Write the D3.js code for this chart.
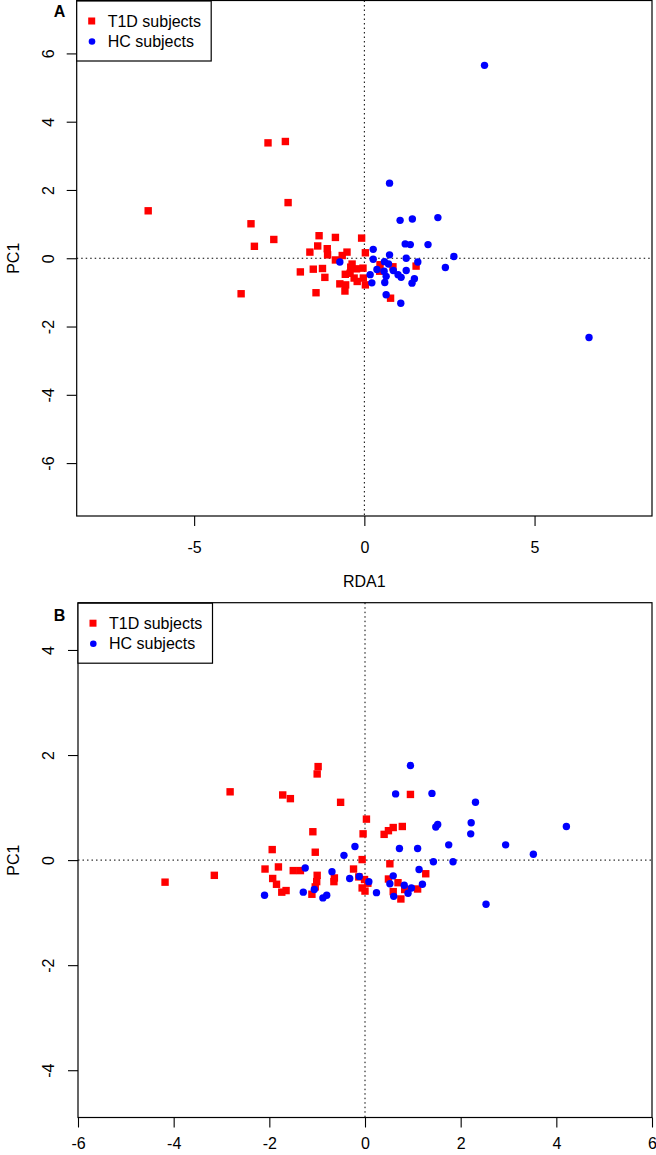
<!DOCTYPE html>
<html>
<head>
<meta charset="utf-8">
<script src="https://cdn.jsdelivr.net/npm/d3@7"></script>
<style>
  html, body { margin: 0; padding: 0; background: #fff; }
  svg { display: block; }
  text { font-family: "Liberation Sans", Arial, sans-serif; }
</style>
</head>
<body>
<svg id="chart" width="656" height="1155"></svg>
<script>
// ---------------- data ----------------
const seriesNames = ["T1D subjects", "HC subjects"];
const seriesColors = ["#ff0000", "#0000ff"];

// Panel A (RDA1 vs PC1)
const t1dA = [
  [-6.35,1.39],[-2.83,3.38],[-2.32,3.42],[-2.24,1.63],[-3.33,1.01],[-2.66,0.55],[-3.23,0.35],[-3.62,-1.04],
  [-1.33,0.66],[-0.85,0.61],[-0.08,0.59],[-1.37,0.36],[-1.09,0.28],[-1.60,0.18],[-1.08,0.10],[-0.51,0.18],
  [-0.65,0.08],[0.03,0.16],[-0.85,-0.05],[-1.88,-0.40],[-1.50,-0.32],[-1.23,-0.30],[-1.16,-0.56],[-1.42,-1.01],
  [-0.36,-0.17],[-0.40,-0.26],[-0.23,-0.31],[-0.04,-0.29],[-0.56,-0.47],[-0.42,-0.44],[-0.30,-0.58],[-0.03,-0.58],
  [-0.72,-0.75],[-0.55,-0.78],[-0.57,-0.96],[-0.21,-0.68],[0.03,-0.78],[0.46,-0.19],[0.45,-0.38],[0.84,-0.25],
  [1.52,-0.23],[0.77,-1.17]
];
const hcA = [
  [3.53,5.65],[6.60,-2.32],[0.74,2.20],[1.05,1.11],[1.41,1.15],[2.16,1.19],[1.20,0.42],[1.35,0.40],[1.87,0.40],
  [2.63,0.05],[0.26,0.26],[0.74,0.10],[1.23,0.00],[0.26,-0.03],[0.59,-0.10],[0.71,-0.17],[1.57,-0.11],[-0.72,-0.11],
  [0.37,-0.33],[0.58,-0.38],[0.85,-0.36],[0.99,-0.48],[1.08,-0.56],[1.23,-0.36],[2.38,-0.27],[0.17,-0.48],
  [0.64,-0.53],[0.22,-0.72],[0.60,-0.71],[1.47,-0.60],[1.40,-0.73],[0.64,-1.07],[1.07,-1.32]
];

// Panel B (RDA1 vs PC1)
const t1dB = [
  [-4.18,-0.42],[-3.15,-0.29],[-2.82,1.30],[-1.72,1.24],[-1.56,1.17],[-0.98,1.78],[-1.00,1.64],[-0.51,1.10],
  [0.03,0.78],[-0.04,0.50],[-1.09,0.54],[-1.94,0.20],[-1.04,0.15],[-0.06,0.01],[-2.09,-0.17],[-1.81,-0.13],
  [-1.50,-0.20],[-1.35,-0.20],[-1.93,-0.35],[-1.85,-0.46],[-1.74,-0.61],[-1.65,-0.58],[-1.00,-0.29],[-1.01,-0.41],
  [-1.04,-0.51],[-1.11,-0.65],[-0.64,-0.34],[-0.65,-0.41],[-0.24,-0.17],[-0.13,-0.32],[-0.01,-0.37],[-0.06,-0.53],
  [0.00,-0.59],[0.06,-0.44],[0.49,-0.36],[0.52,-0.07],[0.40,0.49],[0.49,0.56],[0.59,0.62],[0.78,0.64],
  [0.95,1.25],[0.59,-0.60],[0.75,-0.74],[1.10,-0.55],[0.83,-0.56],[0.69,-0.43],[1.27,-0.26]
];
const hcB = [
  [0.95,1.80],[0.64,1.26],[1.40,1.27],[2.31,1.10],[1.48,0.63],[1.52,0.68],[2.22,0.71],[2.21,0.50],[4.21,0.64],
  [2.94,0.29],[3.52,0.11],[1.75,0.29],[0.72,0.22],[1.10,0.22],[-0.21,0.26],[-0.44,0.09],[1.43,-0.03],[1.84,-0.03],
  [1.13,-0.18],[0.59,-0.30],[0.52,-0.45],[0.82,-0.48],[0.97,-0.53],[1.20,-0.46],[0.90,-0.63],[0.60,-0.69],
  [0.24,-0.62],[0.08,-0.41],[-0.12,-0.31],[-0.32,-0.35],[-0.69,-0.22],[-1.25,-0.15],[-2.10,-0.67],[-1.29,-0.61],
  [-1.06,-0.56],[-0.88,-0.72],[-0.80,-0.67],[2.53,-0.84]
];

// tick values
const xTicksA = [-5, 0, 5];
const yTicksA = [-6, -4, -2, 0, 2, 4, 6];
const xTicksB = [-6, -4, -2, 0, 2, 4, 6];
const yTicksB = [-4, -2, 0, 2, 4];

// ---------------- drawing ----------------
const svg = d3.select("#chart");
const FS = 16;

function panel(cfg) {
  const g = svg.append("g");
  const x = d3.scaleLinear().domain(cfg.xDomain).range(cfg.xRange);
  const y = d3.scaleLinear().domain(cfg.yDomain).range(cfg.yRange);
  const [L, R] = cfg.xRange, [B, T] = cfg.yRange;

  // reference lines
  g.append("line").attr("x1", L).attr("x2", R).attr("y1", y(0)).attr("y2", y(0))
    .attr("stroke", "#000").attr("stroke-width", 1).attr("stroke-dasharray", "1.5,3");
  g.append("line").attr("x1", x(0)).attr("x2", x(0)).attr("y1", T).attr("y2", B)
    .attr("stroke", "#000").attr("stroke-width", 1).attr("stroke-dasharray", "1.5,3");

  // points
  const sq = 7.4;
  g.append("g").selectAll("rect").data(cfg.t1d).join("rect")
    .attr("x", d => x(d[0]) - sq / 2).attr("y", d => y(d[1]) - sq / 2)
    .attr("width", sq).attr("height", sq).attr("fill", seriesColors[0]);
  g.append("g").selectAll("circle").data(cfg.hc).join("circle")
    .attr("cx", d => x(d[0])).attr("cy", d => y(d[1])).attr("r", 3.7)
    .attr("fill", seriesColors[1]);

  // box
  g.append("rect").attr("x", L).attr("y", T).attr("width", R - L).attr("height", B - T)
    .attr("fill", "none").attr("stroke", "#000").attr("stroke-width", 1.2);

  // x axis
  const xa = g.append("g").attr("transform", `translate(0,${B})`)
    .call(d3.axisBottom(x).tickValues(cfg.xTicks).tickSize(10).tickFormat(d => String(d)));
  xa.select(".domain").remove();
  xa.selectAll(".tick line").attr("stroke", "#000").attr("stroke-width", 1.1);
  xa.selectAll(".tick text").attr("y", cfg.xLabelDy).attr("dy", null)
    .attr("font-size", FS).attr("font-family", "Liberation Sans, Arial, sans-serif").attr("fill", "#000");

  // y axis
  const ya = g.append("g").attr("transform", `translate(${L},0)`)
    .call(d3.axisLeft(y).tickValues(cfg.yTicks).tickSize(10).tickFormat(d => String(d)));
  ya.select(".domain").remove();
  ya.selectAll(".tick line").attr("stroke", "#000").attr("stroke-width", 1.1);
  ya.selectAll(".tick text").attr("x", null).attr("dy", null)
    .attr("text-anchor", "middle")
    .attr("transform", `translate(${54 - L},0) rotate(-90)`)
    .attr("font-size", FS).attr("font-family", "Liberation Sans, Arial, sans-serif").attr("fill", "#000");

  // axis titles
  g.append("text").attr("transform", `translate(18.5,${y(0)}) rotate(-90)`)
    .attr("text-anchor", "middle").attr("font-size", FS).text("PC1");
  if (cfg.xTitleY) {
    g.append("text").attr("x", x(0)).attr("y", cfg.xTitleY)
      .attr("text-anchor", "middle").attr("font-size", FS).text("RDA1");
  }

  // panel letter
  g.append("text").attr("x", 59.5).attr("y", cfg.letterY).attr("text-anchor", "middle")
    .attr("font-family", "Liberation Serif, Times New Roman, serif").attr("font-weight", "bold")
    .attr("font-size", 16).text(cfg.letter);

  // legend
  const lg = g.append("g").attr("transform", `translate(${L},${T})`);
  lg.append("rect").attr("x", 0).attr("y", 0.5).attr("width", 134.5).attr("height", 60)
    .attr("fill", "#fff").attr("stroke", "#000").attr("stroke-width", 1.2);
  const rows = [20.5, 41];
  lg.append("rect").attr("x", 15 - 3.5).attr("y", rows[0] - 3.5).attr("width", 7).attr("height", 7)
    .attr("fill", seriesColors[0]);
  lg.append("circle").attr("cx", 15.3).attr("cy", rows[1]).attr("r", 3.3).attr("fill", seriesColors[1]);
  seriesNames.forEach((n, i) => {
    lg.append("text").attr("x", 31).attr("y", rows[i] + 5.8).attr("font-size", FS).text(n);
  });
}

panel({
  xDomain: [-8.45, 8.45], xRange: [76.7, 652],
  yDomain: [-7.55, 7.55], yRange: [516, 0.5],
  xTicks: xTicksA, yTicks: yTicksA,
  t1d: t1dA, hc: hcA,
  xLabelDy: 37, xTitleY: 587,
  letter: "A", letterY: 16.5
});

panel({
  xDomain: [-6, 6], xRange: [78, 652],
  yDomain: [-4.9, 4.9], yRange: [1117.5, 602.7],
  xTicks: xTicksB, yTicks: yTicksB,
  t1d: t1dB, hc: hcB,
  xLabelDy: 31.5, xTitleY: null,
  letter: "B", letterY: 620.5
});
</script>
</body>
</html>
